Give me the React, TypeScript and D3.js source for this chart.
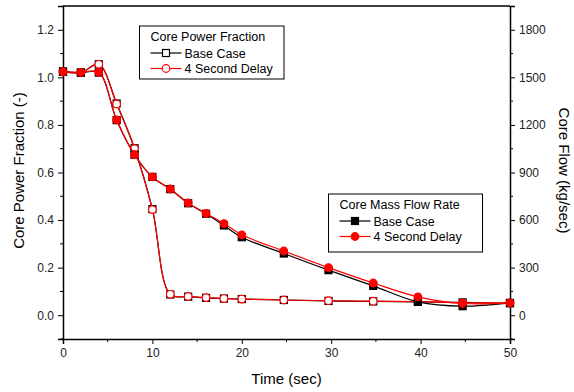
import React, { useEffect, useRef } from "react";
import * as d3 from "d3";

// time points (sec)
const times = [0, 2, 4, 6, 8, 10, 12, 14, 16, 18, 20, 24.7, 29.7, 34.7, 39.7, 44.7, 50];

// core power fraction (-)
const powerBase = [1.025, 1.02, 1.055, 0.89, 0.702, 0.446, 0.087, 0.078, 0.073, 0.07, 0.068, 0.064, 0.06, 0.058, 0.056, 0.054, 0.05];
const powerDelay = [1.025, 1.02, 1.055, 0.888, 0.7, 0.444, 0.088, 0.079, 0.074, 0.07, 0.068, 0.064, 0.061, 0.059, 0.057, 0.052, 0.052];

// core mass flow (kg/sec)
const flowBase = [1535, 1530, 1530, 1230, 1012, 872, 795, 706, 640, 566, 492, 389, 284, 185, 84, 57, 78];
const flowDelay = [1535, 1532, 1532, 1232, 1012, 872, 796, 708, 642, 578, 507, 405, 300, 203, 116, 74, 78];

const xTicks = [0, 10, 20, 30, 40, 50];
const leftTicks = [0, 0.2, 0.4, 0.6, 0.8, 1.0, 1.2];
const rightTicks = [0, 300, 600, 900, 1200, 1500, 1800];

const RED = "#ff0000";
const FONT = "'Liberation Sans', Arial, sans-serif";

export default function App() {
  const ref = useRef<SVGSVGElement>(null);

  useEffect(() => {
    const width = 574;
    const height = 392;
    const margin = { left: 63, top: 6, right: 64, bottom: 53 };

    const svg = d3.select(ref.current);
    svg.selectAll("*").remove();
    svg.attr("width", width).attr("height", height);

    const x = d3.scaleLinear().domain([0, 50]).range([margin.left, width - margin.right]);
    const yL = d3.scaleLinear().domain([-0.1, 1.3]).range([height - margin.bottom, margin.top]);
    const yR = d3.scaleLinear().domain([-150, 1950]).range([height - margin.bottom, margin.top]);

    const x0 = margin.left, x1 = width - margin.right;
    const y0 = height - margin.bottom, y1 = margin.top;

    // frame: top line
    svg.append("line").attr("x1", x0).attr("x2", x1).attr("y1", y1).attr("y2", y1)
      .attr("stroke", "#000").attr("stroke-width", 1.5);

    // axes
    const axisX = d3.axisBottom(x).tickValues(xTicks).tickSize(5).tickPadding(4).tickFormat(d3.format("d"));
    const gx = svg.append("g").attr("transform", `translate(0,${y0})`).call(axisX);
    gx.append("g").selectAll("line").data(d3.range(5, 50, 10)).enter().append("line")
      .attr("x1", (d) => x(d)).attr("x2", (d) => x(d)).attr("y1", 0).attr("y2", 3).attr("stroke", "#000");

    const axisL = d3.axisLeft(yL).tickValues(leftTicks).tickSize(5).tickPadding(4).tickFormat(d3.format(".1f"));
    const gl = svg.append("g").attr("transform", `translate(${x0},0)`).call(axisL);
    gl.append("g").selectAll("line").data(d3.range(-0.1, 1.3, 0.2)).enter().append("line")
      .attr("y1", (d) => yL(d)).attr("y2", (d) => yL(d)).attr("x1", 0).attr("x2", -3).attr("stroke", "#000");

    const axisR = d3.axisRight(yR).tickValues(rightTicks).tickSize(5).tickPadding(4).tickFormat(d3.format("d"));
    const gr = svg.append("g").attr("transform", `translate(${x1},0)`).call(axisR);
    gr.append("g").selectAll("line").data(d3.range(-150, 1950, 300)).enter().append("line")
      .attr("y1", (d) => yR(d)).attr("y2", (d) => yR(d)).attr("x1", 0).attr("x2", 3).attr("stroke", "#000");

    [gx, gl, gr].forEach((g) => {
      g.select(".domain").attr("stroke-width", 1.5);
      g.selectAll("text").attr("font-family", FONT).attr("font-size", 12).attr("fill", "#222");
    });

    // axis titles
    svg.append("text").attr("x", (x0 + x1) / 2).attr("y", 384).attr("text-anchor", "middle")
      .attr("font-family", FONT).attr("font-size", 15).text("Time (sec)");
    svg.append("text").attr("transform", `translate(24,${(y0 + y1) / 2 - 2}) rotate(-90)`)
      .attr("text-anchor", "middle").attr("font-family", FONT).attr("font-size", 15).text("Core Power Fraction (-)");
    svg.append("text").attr("transform", `translate(559,${(y0 + y1) / 2 - 2}) rotate(90)`)
      .attr("text-anchor", "middle").attr("font-family", FONT).attr("font-size", 15).text("Core Flow (kg/sec)");

    const plot = svg.append("g");

    const drawSeries = (
      vals: number[], yScale: d3.ScaleLinear<number, number>, color: string,
      shape: "square" | "circle", filled: boolean
    ) => {
      const pts = times.map((t, i) => [x(t), yScale(vals[i])] as [number, number]);
      const line = d3.line().curve(d3.curveCatmullRom.alpha(0.5));
      plot.append("path").attr("d", line(pts)).attr("fill", "none").attr("stroke", color).attr("stroke-width", 1.2);
      const g = plot.append("g");
      pts.forEach(([px, py]) => {
        if (shape === "square") {
          g.append("rect").attr("x", px - 3.5).attr("y", py - 3.5).attr("width", 7).attr("height", 7)
            .attr("fill", filled ? color : "#fff").attr("stroke", color).attr("stroke-width", 1.2);
        } else {
          g.append("circle").attr("cx", px).attr("cy", py).attr("r", 3.8)
            .attr("fill", filled ? color : "#fff").attr("stroke", color).attr("stroke-width", 1.2);
        }
      });
    };

    drawSeries(powerBase, yL, "#000", "square", false);
    drawSeries(powerDelay, yL, RED, "circle", false);
    drawSeries(flowBase, yR, "#000", "square", true);
    drawSeries(flowDelay, yR, RED, "circle", true);

    // legends
    const legend = (
      bx: number, by: number, w: number, h: number, title: string,
      filled: boolean
    ) => {
      const g = svg.append("g");
      g.append("rect").attr("x", bx).attr("y", by).attr("width", w).attr("height", h)
        .attr("fill", "#fff").attr("stroke", "#000").attr("stroke-width", 1);
      g.append("text").attr("x", bx + 11).attr("y", by + 15).attr("font-family", FONT).attr("font-size", 12.5).text(title);
      const rows = [
        { label: "Base Case", color: "#000", shape: "square" },
        { label: "4 Second Delay", color: RED, shape: "circle" },
      ];
      rows.forEach((r, i) => {
        const ry = by + 27 + i * 15.5;
        const lx = bx + 11;
        g.append("line").attr("x1", lx).attr("x2", lx + 31).attr("y1", ry).attr("y2", ry)
          .attr("stroke", r.color).attr("stroke-width", 1.2);
        if (r.shape === "square") {
          g.append("rect").attr("x", lx + 15.5 - 3.5).attr("y", ry - 3.5).attr("width", 7).attr("height", 7)
            .attr("fill", filled ? r.color : "#fff").attr("stroke", r.color).attr("stroke-width", 1.2);
        } else {
          g.append("circle").attr("cx", lx + 15.5).attr("cy", ry).attr("r", 3.8)
            .attr("fill", filled ? r.color : "#fff").attr("stroke", r.color).attr("stroke-width", 1.2);
        }
        g.append("text").attr("x", lx + 34).attr("y", ry + 4.5).attr("font-family", FONT).attr("font-size", 12.5).text(r.label);
      });
    };

    legend(139.5, 26, 144.5, 53, "Core Power Fraction", false);
    legend(328.5, 194, 154, 58, "Core Mass Flow Rate", true);
  }, []);

  return (
    <svg ref={ref} style={{ position: "absolute", left: 0, top: 0, background: "#fff" }} />
  );
}
